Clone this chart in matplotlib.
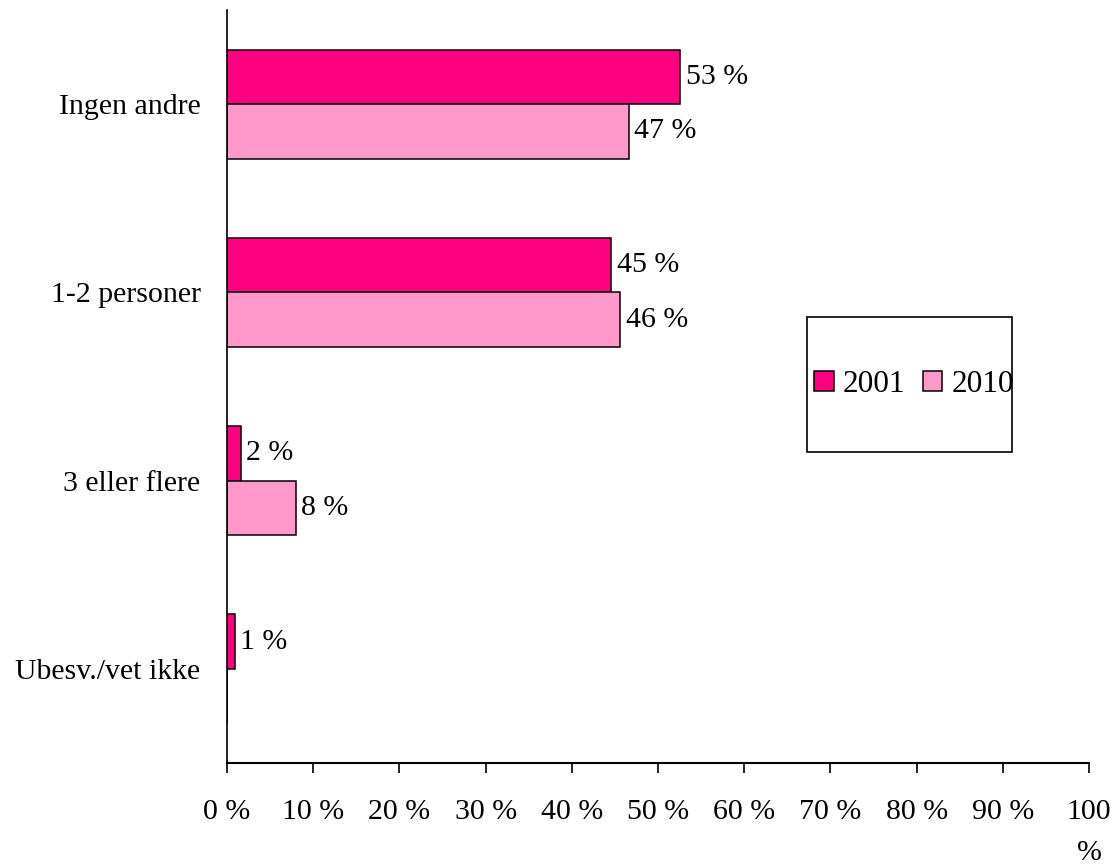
import numpy as np
import matplotlib
matplotlib.use("Agg")
from matplotlib import pyplot as plt
from matplotlib.patches import Rectangle

categories = ["Ingen andre", "1-2 personer", "3 eller flere", "Ubesv./vet ikke"]
series = ["2001", "2010"]
values_2001 = [52.6, 44.6, 1.6, 0.9]
values_2010 = [46.6, 45.6, 8.0, 0.0]
xticks = [0, 10, 20, 30, 40, 50, 60, 70, 80, 90, 100]
xtick_labels = ["0 %", "10 %", "20 %", "30 %", "40 %", "50 %", "60 %",
                "70 %", "80 %", "90 %", "100\n%"]
colors = ["#FF0080", "#FF99CC"]

plt.rcParams['font.family'] = ['Liberation Serif', 'DejaVu Serif']
plt.rcParams['font.size'] = 21.5

fig = plt.figure(figsize=(11.12, 8.67), dpi=100)
ax = fig.add_axes([0.2041, 0.1199, 0.7752, 0.8686])

y = np.arange(len(categories))
h = 0.29
for k, (vals, name) in enumerate(zip([values_2001, values_2010], series)):
    pos = y - h / 2 + k * h
    ax.barh(pos, vals, height=h, color=colors[k], edgecolor="black",
            linewidth=1.1, label=name)
    for p, v in zip(pos, vals):
        if v > 0:
            ax.annotate(f"{v:.0f} %", (v, p), xytext=(4, 0),
                        textcoords="offset points", va="center", ha="left")

ax.set_xlim(0, 100)
ax.set_ylim(len(categories) - 0.5, -0.5)
ax.set_xticks(xticks)
ax.set_xticklabels(xtick_labels)
ax.get_xticklabels()[-1].set_linespacing(1.75)
ax.set_yticks(y)
ax.set_yticklabels(categories)
ax.tick_params(axis="x", length=7, width=1.2, pad=19, direction="out")
ax.tick_params(axis="y", length=0, pad=19)
for s in ["top", "right"]:
    ax.spines[s].set_visible(False)
ax.spines["left"].set_linewidth(1.2)
ax.spines["bottom"].set_linewidth(1.5)

# legend frame drawn separately so it can be taller than its content
ax.add_patch(Rectangle((0.673, 0.413), 0.238, 0.179, transform=ax.transAxes,
                       facecolor="white", edgecolor="black", linewidth=1.2,
                       zorder=3, clip_on=False))
leg = ax.legend(loc="center", bbox_to_anchor=(0.797, 0.5025), ncol=2,
                frameon=False, handlelength=0.63, handleheight=0.63,
                handletextpad=0.3, columnspacing=0.55, borderpad=0,
                prop={"size": 22.5})
leg.set_zorder(4)

fig.savefig("out.png", dpi=100)
